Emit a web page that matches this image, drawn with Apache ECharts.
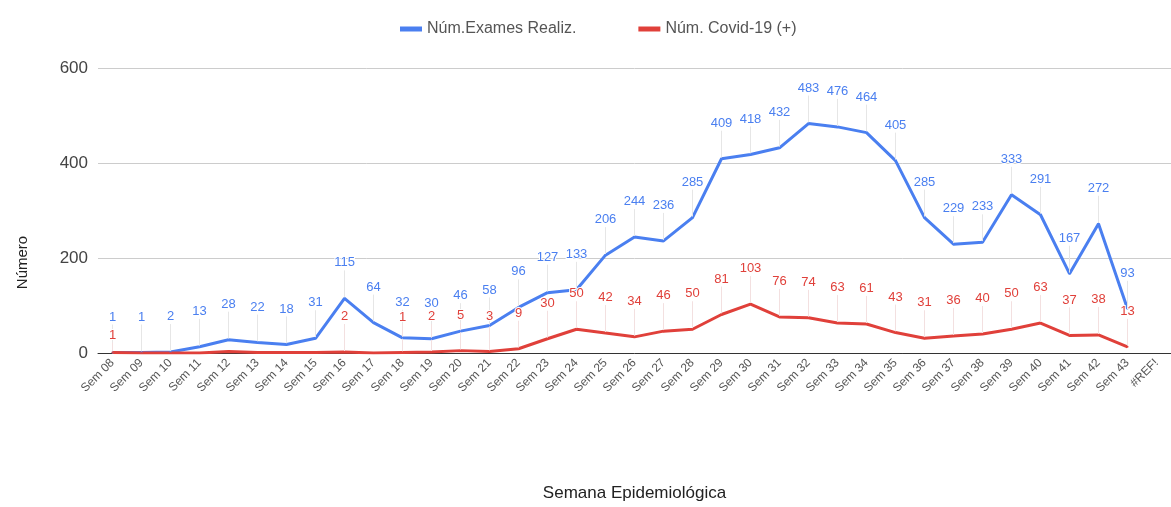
<!DOCTYPE html>
<html style="height: 100%">
<head>
<meta charset="utf-8">
<script src="https://cdn.jsdelivr.net/npm/echarts@6/dist/echarts.min.js"></script>
</head>
<body style="height: 100%; margin: 0; background: #fff">
<div id="container" style="width: 1171px; height: 507px"></div>
<script type="text/javascript">
var semanas = ['Sem 08','Sem 09','Sem 10','Sem 11','Sem 12','Sem 13','Sem 14','Sem 15','Sem 16','Sem 17',
  'Sem 18','Sem 19','Sem 20','Sem 21','Sem 22','Sem 23','Sem 24','Sem 25','Sem 26','Sem 27',
  'Sem 28','Sem 29','Sem 30','Sem 31','Sem 32','Sem 33','Sem 34','Sem 35','Sem 36','Sem 37',
  'Sem 38','Sem 39','Sem 40','Sem 41','Sem 42','Sem 43','#REF!'];
var exames = [1,1,2,13,28,22,18,31,115,64,32,30,46,58,96,127,133,206,244,236,
  285,409,418,432,483,476,464,405,285,229,233,333,291,167,272,93,null];
var covid = [1,0,0,0,3,1,1,1,2,0,1,2,5,3,9,30,50,42,34,46,
  50,81,103,76,74,63,61,43,31,36,40,50,63,37,38,13,null];
// semanas cujo rótulo vermelho não aparece (sobreposição no original)
var covidSemRotulo = [1,2,3,4,5,6,7,9];
var yTicks = [0, 200, 400, 600];

var dom = document.getElementById("container");
var myChart = echarts.init(dom);
var fonte = 'Liberation Sans, Arial, sans-serif';

function serie(nome, dados, cor, corStem, layout) {
    return {
        name: nome,
        type: 'line',
        data: dados,
        symbol: 'circle',
        symbolSize: 2,
        showSymbol: true,
        lineStyle: {color: cor, width: 3},
        itemStyle: {color: cor},
        label: {
            show: true,
            position: 'top',
            distance: 0,
            color: cor,
            fontSize: 13,
            fontFamily: fonte,
            textBorderColor: '#fff',
            textBorderWidth: 2
        },
        labelLayout: layout,
        labelLine: {show: true, lineStyle: {color: corStem, width: 1}},
        emphasis: {disabled: true}
    };
}

var covidDados = covid.map(function (v, i) {
    if (covidSemRotulo.indexOf(i) >= 0) return {value: v, label: {show: false}};
    return v;
});

var option = {
    animation: false,
    textStyle: {fontFamily: fonte},
    legend: {
        top: 16,
        left: 395,
        itemWidth: 22,
        itemHeight: 5,
        itemGap: 62,
        icon: 'rect',
        textStyle: {color: '#555', fontSize: 16, fontFamily: fonte},
        data: ['Núm.Exames Realiz.', 'Núm. Covid-19 (+)']
    },
    grid: {left: 98, right: 0, top: 68, bottom: 152},
    xAxis: {
        type: 'category',
        data: semanas,
        boundaryGap: true,
        name: 'Semana Epidemiológica',
        nameLocation: 'middle',
        nameGap: 132,
        nameTextStyle: {color: '#222', fontSize: 17, fontFamily: fonte},
        axisLine: {lineStyle: {color: '#333', width: 1}},
        axisTick: {show: false},
        axisLabel: {rotate: 45, color: '#555', fontSize: 12, margin: 8, interval: 0, fontFamily: fonte}
    },
    yAxis: {
        type: 'value',
        min: yTicks[0],
        max: yTicks[yTicks.length - 1],
        interval: 200,
        name: 'Número',
        nameLocation: 'middle',
        nameGap: 68,
        nameTextStyle: {color: '#222', fontSize: 15, fontFamily: fonte, padding: [0, 104, 0, 0]},
        axisLine: {show: false},
        axisTick: {show: false},
        axisLabel: {color: '#444', fontSize: 17, margin: 10, fontFamily: fonte},
        splitLine: {lineStyle: {color: '#ccc', width: 1}}
    },
    series: [
        serie('Núm.Exames Realiz.', exames, '#4a7ff0', '#e6e6e6', {dy: -28}),
        serie('Núm. Covid-19 (+)', covidDados, '#e0403a', '#f3e0e0', function (p) {
            var i = p.dataIndex;
            return {dy: Math.abs(exames[i] - covid[i]) < 20 ? -10 : -28};
        })
    ]
};
myChart.setOption(option, true);
</script>
</body>
</html>
